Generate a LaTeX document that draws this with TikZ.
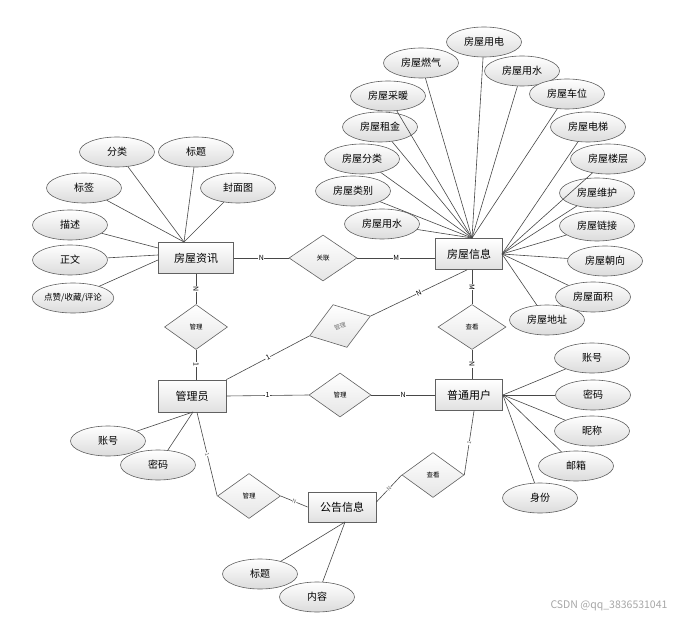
\documentclass[tikz,border=0pt]{standalone}
\usepackage{fontspec}
\setmainfont{Noto Sans CJK SC}
\usetikzlibrary{shapes.geometric,calc}
\begin{document}
\begin{tikzpicture}[x=1pt,y=-1pt,
  attr/.style={ellipse, draw=black!62, line width=0.6pt, top color=white, bottom color=black!14,
    minimum width=75pt, minimum height=30pt, inner sep=0pt, font=\fontsize{10}{12}\selectfont},
  ent/.style={rectangle, draw=black!62, line width=0.8pt, top color=white, bottom color=black!12,
    minimum width=67pt, minimum height=31pt, inner sep=0pt, font=\fontsize{11}{13}\selectfont},
  rel/.style={diamond, draw=black!62, line width=0.6pt, top color=white, bottom color=black!10,
    minimum width=64pt, minimum height=45pt, inner sep=0pt, font=\fontsize{6.5}{8}\selectfont},
  ln/.style={draw=black!72, line width=0.6pt},
  card/.style={fill=white, inner sep=0.6pt, font=\fontsize{7}{8}\selectfont},
  cardsm/.style={fill=white, inner sep=0.4pt, text=black!60, font=\fontsize{5.5}{6}\selectfont}
]
\useasboundingbox (0,0) rectangle (696,620);
% entities
\node[ent, minimum width=75pt] (zx) at (196,258) {房屋资讯};
\node[ent] (xx) at (469,254) {房屋信息};
\node[ent, minimum width=68pt, minimum height=32pt] (gly) at (192,396) {管理员};
\node[ent] (pt) at (469,395) {普通用户};
\node[ent, minimum width=68pt, minimum height=30pt] (gg) at (342,507) {公告信息};
% relations
\node[rel, minimum width=68pt, minimum height=46pt] (r1) at (323,258) {关联};
\node[rel, minimum width=63pt] (r2) at (196,327) {管理};
\node[rel, rotate=18, text=black!55, font=\fontsize{6}{7}\selectfont] (r3) at (340,326) {管理};
\node[rel, minimum width=68pt] (r4) at (472,327) {查看};
\node[rel, minimum width=62pt, minimum height=44pt] (r5) at (340,395) {管理};
\node[rel, minimum width=63pt] (r6) at (249,496) {管理};
\node[rel, minimum width=62pt] (r7) at (433,475) {查看};
% 房屋资讯 attributes
\node[attr] (a1) at (117,152) {分类};
\node[attr] (a2) at (196,152) {标题};
\node[attr] (a3) at (84,188) {标签};
\node[attr] (a4) at (238,188) {封面图};
\node[attr] (a5) at (70,225) {描述};
\node[attr] (a6) at (70,260) {正文};
\node[attr, font=\fontsize{8.5}{10}\selectfont] (a7) at (73,298) {点赞/收藏/评论};
\coordinate (zxt) at (184,242);
\foreach \a in {a1,a2,a3,a4} \draw[ln] (\a) -- (zxt);
\draw[ln] (a5) -- (158,248);
\draw[ln] (a6) -- (158,255);
\draw[ln] (a7) -- (158,260);
% 房屋信息 attributes
\node[attr] (b1) at (484,42) {房屋用电};
\node[attr] (b2) at (421,63) {房屋燃气};
\node[attr] (b3) at (522,71) {房屋用水};
\node[attr] (b4) at (388,96) {房屋采暖};
\node[attr] (b5) at (567,94) {房屋车位};
\node[attr] (b6) at (380,127) {房屋租金};
\node[attr] (b7) at (588,127) {房屋电梯};
\node[attr] (b8) at (362,159) {房屋分类};
\node[attr] (b9) at (608,159) {房屋楼层};
\node[attr] (b10) at (353,191) {房屋类别};
\node[attr] (b11) at (597,193) {房屋维护};
\node[attr] (b12) at (382,224) {房屋用水};
\node[attr] (b13) at (597,226) {房屋链接};
\node[attr] (b14) at (605,261) {房屋朝向};
\node[attr] (b15) at (593,297) {房屋面积};
\node[attr] (b16) at (547,320) {房屋地址};
\coordinate (xt) at (472,238);
\coordinate (xr) at (502,254);
\foreach \b in {b1,b2,b3,b4,b5,b6,b8,b10,b12} \draw[ln] (\b) -- (xt);
\foreach \b in {b7,b9,b11,b13,b14,b15,b16} \draw[ln] (\b) -- (xr);
% 管理员 attributes
\node[attr] (c1) at (108,441) {账号};
\node[attr] (c2) at (158,465) {密码};
\coordinate (glyb) at (193,412);
\draw[ln] (c1) -- (glyb);
\draw[ln] (c2) -- (glyb);
% 普通用户 attributes
\node[attr] (d1) at (592,358) {账号};
\node[attr] (d2) at (593,395) {密码};
\node[attr] (d3) at (592,431) {昵称};
\node[attr] (d4) at (576,466) {邮箱};
\node[attr] (d5) at (540,498) {身份};
\foreach \d in {d1,d2,d3,d4,d5} \draw[ln] (\d) -- (pt.east);
% 公告信息 attributes
\node[attr] (e1) at (260,574) {标题};
\node[attr] (e2) at (317,597) {内容};
\coordinate (ggb) at (345,522);
\draw[ln] (e1) -- (ggb);
\draw[ln] (e2) -- (ggb);
% relationships
\draw[ln] (zx.east) -- node[card]{N} (r1.west);
\draw[ln] (r1.east) -- node[card]{M} (r1.east -| xx.west);
\draw[ln] (zx.south) -- node[card, sloped]{N} (r2.north);
\draw[ln] (r2.south) -- node[card, sloped]{1} (r2.south |- gly.north);
\draw[ln] (gly.north east) -- node[card, sloped]{1} (r3.west);
\draw[ln] (r3.east) -- node[card, sloped]{N} ($(xx.south)+(-2,0)$);
\draw[ln] (r4.north |- xx.south) -- node[card, sloped]{M} (r4.north);
\draw[ln] (r4.south) -- node[card, sloped]{N} (r4.south |- pt.north);
\draw[ln] (gly.east) -- node[card]{1} (r5.west);
\draw[ln] (r5.east) -- node[card]{N} (pt.west);
\draw[ln] ($(gly.south)+(5,0)$) -- node[cardsm, sloped]{1} (r6.west);
\draw[ln] (r6.east) -- node[cardsm, sloped]{N} (gg.west);
\draw[ln] ($(pt.south)+(5,0)$) -- node[cardsm, sloped]{1} (r7.east);
\draw[ln] (r7.west) -- node[cardsm, sloped]{N} ($(gg.east)+(0,-5)$);
% watermark
\node[text=black!35, font=\fontsize{10.5}{12}\selectfont] (wm) at (609,606) {CSDN @qq\_3836531041};
\end{tikzpicture}
\end{document}
